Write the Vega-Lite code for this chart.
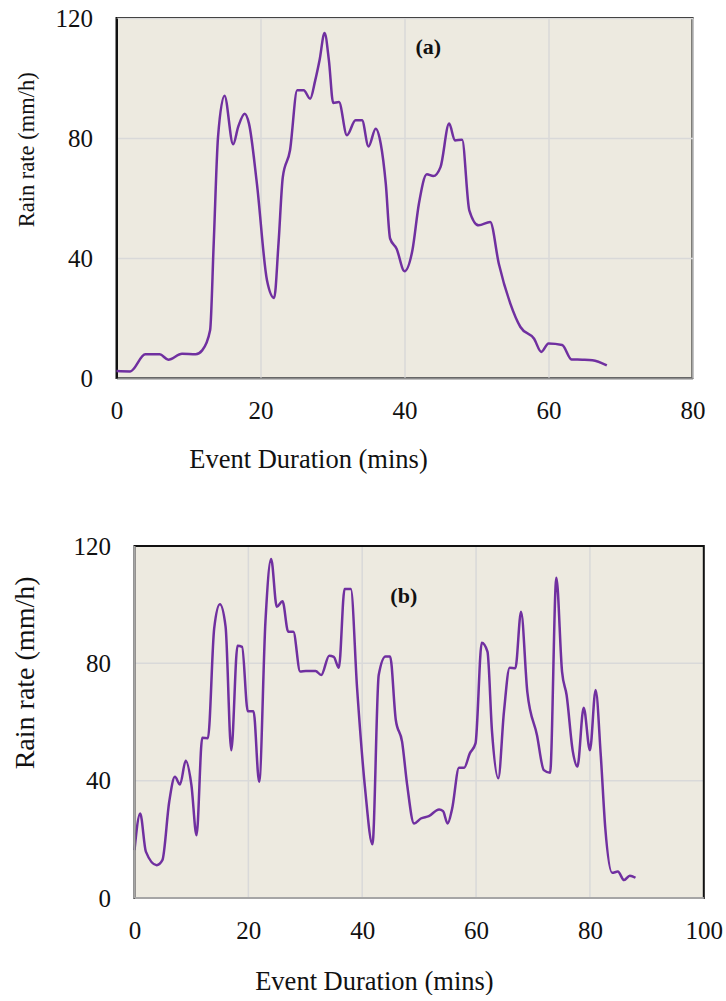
{
  "$schema": "https://vega.github.io/schema/vega-lite/v6.json",
  "background": "white",
  "padding": {"left": 10.5, "top": 5, "right": 5, "bottom": 0},
  "spacing": 60,
  "config": {
    "font": "Liberation Serif",
    "view": {"fill": "#EDEAE0", "stroke": "#111111", "strokeWidth": 2},
    "axis": {
      "labelFont": "Liberation Serif",
      "titleFont": "Liberation Serif",
      "labelFontSize": 25,
      "labelColor": "#111111",
      "titleColor": "#111111",
      "titleFontWeight": "normal",
      "labelFlush": false,
      "ticks": false,
      "tickSize": 0,
      "gridColor": "#D9D9D9",
      "gridWidth": 1.5,
      "domainColor": "#8C8C8C",
      "domainWidth": 2
    }
  },
  "datasets": {
    "a": [
      {"t": 0, "r": 2.3}, {"t": 1.9, "r": 2.2}, {"t": 4, "r": 7.9}, {"t": 6, "r": 7.9}, {"t": 7.2, "r": 6.1},
      {"t": 9.1, "r": 8.1}, {"t": 11, "r": 7.9}, {"t": 11.9, "r": 9.2}, {"t": 13, "r": 15.9}, {"t": 13.5, "r": 44.8},
      {"t": 14.1, "r": 80.3}, {"t": 15, "r": 94.1}, {"t": 16.2, "r": 77.9}, {"t": 16.9, "r": 83.7}, {"t": 17.8, "r": 88.1},
      {"t": 18.4, "r": 84.8}, {"t": 19.5, "r": 64.8}, {"t": 20.9, "r": 32.6}, {"t": 21.9, "r": 26.7}, {"t": 22.5, "r": 44.8},
      {"t": 23.1, "r": 67}, {"t": 24.1, "r": 75.9}, {"t": 25.1, "r": 95.9}, {"t": 26, "r": 95.9}, {"t": 26.9, "r": 93.1},
      {"t": 27.6, "r": 99.2}, {"t": 28.2, "r": 105.9}, {"t": 28.9, "r": 115}, {"t": 29.5, "r": 105.9}, {"t": 30.1, "r": 91.7},
      {"t": 30.9, "r": 92}, {"t": 32, "r": 80.9}, {"t": 33.2, "r": 85.9}, {"t": 34.1, "r": 85.9}, {"t": 35, "r": 77.2},
      {"t": 36, "r": 83.1}, {"t": 36.7, "r": 78.1}, {"t": 37.4, "r": 64.8}, {"t": 38, "r": 46.5}, {"t": 38.9, "r": 43.1},
      {"t": 40, "r": 35.6}, {"t": 41.1, "r": 42.6}, {"t": 42, "r": 58.1}, {"t": 43.1, "r": 67.9}, {"t": 44, "r": 67.3},
      {"t": 45, "r": 70.3}, {"t": 46.2, "r": 84.8}, {"t": 47, "r": 79.2}, {"t": 48, "r": 79.4}, {"t": 49, "r": 55.9},
      {"t": 50.3, "r": 50.9}, {"t": 51.9, "r": 52}, {"t": 53.1, "r": 38.1}, {"t": 54.7, "r": 24.8}, {"t": 56.1, "r": 17},
      {"t": 58, "r": 13.1}, {"t": 59, "r": 8.7}, {"t": 60, "r": 11.5}, {"t": 61.9, "r": 11}, {"t": 63.2, "r": 6.2},
      {"t": 64.7, "r": 6.1}, {"t": 66.1, "r": 5.9}, {"t": 68.1, "r": 4.2}
    ],
    "b": [
      {"t": 0, "r": 16.3}, {"t": 1, "r": 28.8}, {"t": 2, "r": 15.8}, {"t": 3.9, "r": 11.2}, {"t": 4.9, "r": 12.9},
      {"t": 6.1, "r": 32.8}, {"t": 7.1, "r": 41.3}, {"t": 8, "r": 38.7}, {"t": 9, "r": 46.8}, {"t": 10, "r": 38.5},
      {"t": 10.9, "r": 21.4}, {"t": 11.9, "r": 54.6}, {"t": 12.9, "r": 54.5}, {"t": 14, "r": 91.9}, {"t": 15, "r": 100.1},
      {"t": 16, "r": 92.5}, {"t": 17, "r": 50.4}, {"t": 18.1, "r": 86}, {"t": 18.9, "r": 85.6}, {"t": 19.9, "r": 63.7},
      {"t": 20.9, "r": 63.7}, {"t": 21.9, "r": 39.6}, {"t": 23, "r": 94.2}, {"t": 24, "r": 115.6}, {"t": 25, "r": 99.3},
      {"t": 26, "r": 101.2}, {"t": 27, "r": 90.8}, {"t": 27.9, "r": 90.8}, {"t": 29.1, "r": 77.2}, {"t": 30.1, "r": 77.4},
      {"t": 31.8, "r": 77.4}, {"t": 32.8, "r": 76}, {"t": 34.2, "r": 82.6}, {"t": 35, "r": 82.2}, {"t": 35.9, "r": 78.5},
      {"t": 36.9, "r": 105.3}, {"t": 38, "r": 105.3}, {"t": 39.1, "r": 71.5}, {"t": 40.5, "r": 37.4}, {"t": 41.8, "r": 18.3},
      {"t": 42.9, "r": 76}, {"t": 44.1, "r": 82.3}, {"t": 44.9, "r": 82.3}, {"t": 45.9, "r": 60.7}, {"t": 47, "r": 53.3},
      {"t": 47.9, "r": 38.5}, {"t": 49.1, "r": 25.4}, {"t": 50.3, "r": 27.1}, {"t": 51.7, "r": 27.9}, {"t": 53.5, "r": 30.2},
      {"t": 54.2, "r": 29.6}, {"t": 55, "r": 25.4}, {"t": 55.8, "r": 30.5}, {"t": 57, "r": 44.4}, {"t": 57.9, "r": 44.4},
      {"t": 58.9, "r": 49.3}, {"t": 59.9, "r": 52.7}, {"t": 61, "r": 87}, {"t": 62, "r": 84}, {"t": 62.8, "r": 56.7},
      {"t": 63.9, "r": 40.8}, {"t": 64.9, "r": 63.5}, {"t": 65.9, "r": 78.5}, {"t": 66.9, "r": 78.3}, {"t": 67.9, "r": 97.6},
      {"t": 69, "r": 70.3}, {"t": 70.7, "r": 55.5}, {"t": 71.9, "r": 43.6}, {"t": 73, "r": 42.7}, {"t": 74.1, "r": 109.2},
      {"t": 75.1, "r": 77.2}, {"t": 75.9, "r": 69.2}, {"t": 77, "r": 49.9}, {"t": 77.8, "r": 44.8}, {"t": 78.9, "r": 64.9},
      {"t": 80, "r": 50.4}, {"t": 81, "r": 70.9}, {"t": 81.9, "r": 48.7}, {"t": 82.7, "r": 23.7}, {"t": 83.9, "r": 8.6},
      {"t": 84.9, "r": 9}, {"t": 86, "r": 6.1}, {"t": 87, "r": 7.6}, {"t": 88, "r": 6.9}
    ],
    "one": [{}]
  },
  "vconcat": [
    {
      "width": 576,
      "height": 360,
      "data": {"name": "a"},
      "layer": [
        {
          "mark": {"type": "line", "color": "#7030A0", "strokeWidth": 2.5, "interpolate": "monotone"},
          "encoding": {
            "x": {
              "field": "t", "type": "quantitative",
              "scale": {"domain": [0, 80], "nice": false},
              "axis": {
                "values": [0, 20, 40, 60, 80],
                "title": "Event Duration (mins)",
                "titleFontSize": 26.5,
                "labelBaseline": "alphabetic",
                "labelPadding": 40.6,
                "titleX": 191.5,
                "titleY": 89,
                "titleBaseline": "alphabetic",
                "titleAlign": "center"
              }
            },
            "y": {
              "field": "r", "type": "quantitative",
              "scale": {"domain": [0, 120], "nice": false},
              "axis": {
                "values": [0, 40, 80, 120],
                "title": "Rain rate (mm/h)",
                "titleFontSize": 22.5,
                "labelPadding": 24,
                "domainColor": "#111111",
                "titleX": -83,
                "titleY": 131.3,
                "titleAngle": -90,
                "titleBaseline": "alphabetic",
                "titleAlign": "center"
              }
            }
          }
        },
        {
          "data": {"name": "one"},
          "mark": {"type": "text", "text": "(a)", "font": "Liberation Serif", "fontSize": 22, "fontWeight": "bold", "fill": "#111111", "baseline": "middle", "align": "center"},
          "encoding": {
            "x": {"datum": 43.3, "type": "quantitative"},
            "y": {"datum": 110.3, "type": "quantitative"}
          }
        }
      ]
    },
    {
      "width": 587.3,
      "height": 352,
      "view": {"fill": null, "stroke": null},
      "data": {"name": "b"},
      "layer": [
        {
          "data": {"name": "one"},
          "mark": {"type": "rect", "fill": "#EDEAE0"},
          "encoding": {
            "x": {
              "datum": 0, "type": "quantitative",
              "scale": {"domain": [-3.16, 100], "nice": false, "zero": false},
              "axis": {
                "values": [0, 20, 40, 60, 80, 100],
                "grid": false,
                "domain": false,
                "title": "Event Duration (mins)",
                "titleFontSize": 26.5,
                "labelBaseline": "alphabetic",
                "labelPadding": 40.4,
                "titleX": 257.4,
                "titleY": 91.5,
                "titleBaseline": "alphabetic",
                "titleAlign": "center"
              }
            },
            "x2": {"datum": 100},
            "y": {
              "datum": 0, "type": "quantitative",
              "scale": {"domain": [0, 120], "nice": false},
              "axis": {
                "values": [0, 40, 80, 120],
                "grid": false,
                "domain": false,
                "title": "Rain rate (mm/h)",
                "titleFontSize": 28,
                "labelPadding": 6,
                "titleX": -83,
                "titleY": 126.4,
                "titleAngle": -90,
                "titleBaseline": "alphabetic",
                "titleAlign": "center"
              }
            },
            "y2": {"datum": 120}
          }
        },
        {
          "data": {"name": "one"},
          "mark": {"type": "rule", "color": "#D9D9D9", "strokeWidth": 1.5},
          "encoding": {"x": {"datum": 20, "type": "quantitative"}, "y": {"datum": 0, "type": "quantitative"}, "y2": {"datum": 120}}
        },
        {
          "data": {"name": "one"},
          "mark": {"type": "rule", "color": "#D9D9D9", "strokeWidth": 1.5},
          "encoding": {"x": {"datum": 40, "type": "quantitative"}, "y": {"datum": 0, "type": "quantitative"}, "y2": {"datum": 120}}
        },
        {
          "data": {"name": "one"},
          "mark": {"type": "rule", "color": "#D9D9D9", "strokeWidth": 1.5},
          "encoding": {"x": {"datum": 60, "type": "quantitative"}, "y": {"datum": 0, "type": "quantitative"}, "y2": {"datum": 120}}
        },
        {
          "data": {"name": "one"},
          "mark": {"type": "rule", "color": "#D9D9D9", "strokeWidth": 1.5},
          "encoding": {"x": {"datum": 80, "type": "quantitative"}, "y": {"datum": 0, "type": "quantitative"}, "y2": {"datum": 120}}
        },
        {
          "data": {"name": "one"},
          "mark": {"type": "rule", "color": "#D9D9D9", "strokeWidth": 1.5},
          "encoding": {"y": {"datum": 40, "type": "quantitative"}, "x": {"datum": 0, "type": "quantitative"}, "x2": {"datum": 100}}
        },
        {
          "data": {"name": "one"},
          "mark": {"type": "rule", "color": "#D9D9D9", "strokeWidth": 1.5},
          "encoding": {"y": {"datum": 80, "type": "quantitative"}, "x": {"datum": 0, "type": "quantitative"}, "x2": {"datum": 100}}
        },
        {
          "mark": {"type": "line", "color": "#7030A0", "strokeWidth": 2.5, "interpolate": "monotone"},
          "encoding": {
            "x": {"field": "t", "type": "quantitative"},
            "y": {"field": "r", "type": "quantitative"}
          }
        },
        {
          "data": {"name": "one"},
          "mark": {"type": "rect", "fill": null, "stroke": "#111111", "strokeWidth": 2},
          "encoding": {
            "x": {"datum": 0, "type": "quantitative"},
            "x2": {"datum": 100},
            "y": {"datum": 0, "type": "quantitative"},
            "y2": {"datum": 120}
          }
        },
        {
          "data": {"name": "one"},
          "mark": {"type": "rule", "color": "#A6A6A6", "strokeWidth": 2},
          "encoding": {"x": {"datum": 0, "type": "quantitative"}, "y": {"datum": 0, "type": "quantitative"}, "y2": {"datum": 120}}
        },
        {
          "data": {"name": "one"},
          "mark": {"type": "rule", "color": "#A6A6A6", "strokeWidth": 2},
          "encoding": {"y": {"datum": 0, "type": "quantitative"}, "x": {"datum": 0, "type": "quantitative"}, "x2": {"datum": 100}}
        },
        {
          "data": {"name": "one"},
          "mark": {"type": "text", "text": "(b)", "font": "Liberation Serif", "fontSize": 22, "fontWeight": "bold", "fill": "#111111", "baseline": "middle", "align": "center"},
          "encoding": {
            "x": {"datum": 47.3, "type": "quantitative"},
            "y": {"datum": 103, "type": "quantitative"}
          }
        }
      ]
    }
  ]
}
